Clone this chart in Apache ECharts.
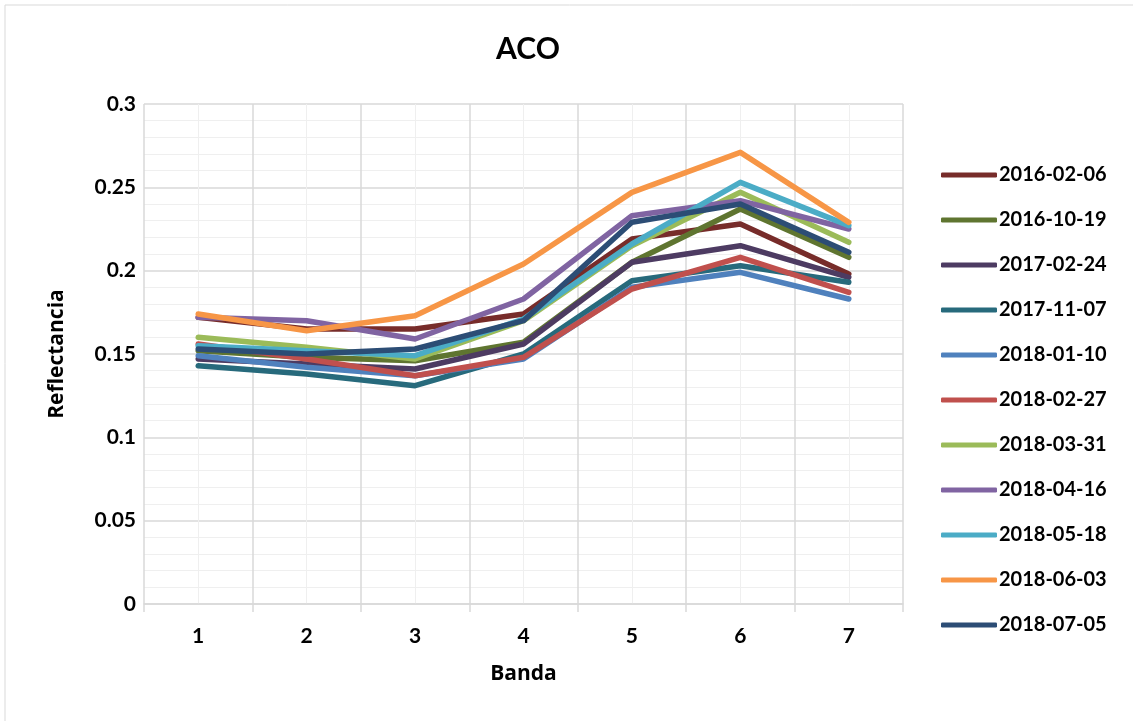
<!DOCTYPE html>
<html>
<head>
<meta charset="utf-8">
<script src="https://cdn.jsdelivr.net/npm/echarts@6/dist/echarts.min.js"></script>
<style>
html,body{margin:0;padding:0;background:#fff;}
#chart{width:1133px;height:721px;}
</style>
</head>
<body>
<div id="chart"></div>
<script>
const categories = ['1','2','3','4','5','6','7'];
const seriesNames = ['2016-02-06','2016-10-19','2017-02-24','2017-11-07','2018-01-10','2018-02-27','2018-03-31','2018-04-16','2018-05-18','2018-06-03','2018-07-05'];
const s20160206 = [0.172, 0.165, 0.165, 0.174, 0.219, 0.228, 0.198];
const s20161019 = [0.152, 0.148, 0.146, 0.157, 0.205, 0.237, 0.208];
const s20170224 = [0.147, 0.144, 0.141, 0.156, 0.205, 0.215, 0.196];
const s20171107 = [0.143, 0.138, 0.131, 0.150, 0.194, 0.203, 0.193];
const s20180110 = [0.149, 0.142, 0.137, 0.147, 0.190, 0.199, 0.183];
const s20180227 = [0.156, 0.147, 0.137, 0.148, 0.189, 0.208, 0.187];
const s20180331 = [0.160, 0.154, 0.147, 0.170, 0.215, 0.247, 0.217];
const s20180416 = [0.172, 0.170, 0.159, 0.183, 0.233, 0.242, 0.225];
const s20180518 = [0.155, 0.152, 0.149, 0.171, 0.216, 0.253, 0.227];
const s20180603 = [0.174, 0.164, 0.173, 0.204, 0.247, 0.271, 0.229];
const s20180705 = [0.153, 0.150, 0.153, 0.170, 0.229, 0.240, 0.211];
const seriesData = [s20160206, s20161019, s20170224, s20171107, s20180110, s20180227, s20180331, s20180416, s20180518, s20180603, s20180705];
const colors = ['#772C2A','#5F7530','#4D3B62','#276A7C','#4F81BD','#C0504D','#9BBB59','#8064A2','#4BACC6','#F79646','#2C4D75'];
const yTicks = [0, 0.05, 0.1, 0.15, 0.2, 0.25, 0.3];

const FONT = 'Lato, "Open Sans", sans-serif';
const NAMEFONT = '"Open Sans", Lato, sans-serif';
const chart = echarts.init(document.getElementById('chart'), null, {renderer:'canvas'});
const option = {
  backgroundColor: '#ffffff',
  color: colors,
  animation: false,
  graphic: [{
    type: 'rect', silent: true,
    shape: {x: 5, y: 5, width: 1140, height: 730},
    style: {fill: 'none', stroke: '#d9d9d9', lineWidth: 1}
  }],
  title: {
    text: 'ACO', left: 523, top: 29, textAlign: 'center',
    textStyle: {fontFamily: FONT, fontWeight: 'bold', fontSize: 30, color: '#000'}
  },
  grid: {left: 144, right: 230, top: 104, bottom: 117, containLabel: false},
  legend: {
    orient: 'vertical', left: 941, top: 165, padding: 0,
    icon: 'roundRect', itemWidth: 56, itemHeight: 5, itemGap: 25,
    data: seriesNames,
    textStyle: {fontFamily: FONT, fontWeight: 'bold', fontSize: 20, color: '#000', lineHeight: 20, padding: [0,0,0,-3]}
  },
  xAxis: [{
    type: 'category', data: categories, boundaryGap: true,
    name: 'Banda', nameLocation: 'middle', nameGap: 60,
    nameTextStyle: {fontFamily: NAMEFONT, fontWeight: 'bold', fontSize: 21, color: '#000'},
    axisLine: {lineStyle: {color: '#d9d9d9', width: 1.5}},
    axisTick: {show: true, length: 8, lineStyle: {color: '#d9d9d9', width: 1.5}},
    axisLabel: {fontFamily: FONT, fontWeight: 'bold', fontSize: 21, color: '#000', margin: 22},
    splitLine: {show: false}
  }, {
    type: 'value', min: 0, max: 7, interval: 1, position: 'bottom',
    axisLine: {show: false}, axisTick: {show: false}, axisLabel: {show: false},
    splitLine: {show: true, lineStyle: {color: '#d9d9d9', width: 1.5}},
    minorTick: {show: false, splitNumber: 2},
    minorSplitLine: {show: true, lineStyle: {color: '#efefef', width: 1}}
  }],
  yAxis: {
    type: 'value', min: 0, max: 0.3, interval: 0.05,
    name: 'Reflectancia', nameLocation: 'middle', nameGap: 76, nameRotate: 90,
    nameTextStyle: {fontFamily: NAMEFONT, fontWeight: 'bold', fontSize: 21, color: '#000'},
    axisLine: {show: false}, axisTick: {show: false},
    axisLabel: {fontFamily: FONT, fontWeight: 'bold', fontSize: 21, color: '#000', margin: 8,
      formatter: function(v){ const t = yTicks.find(function(x){return Math.abs(x - v) < 1e-9;}); return t === undefined ? '' : String(t); }},
    splitLine: {show: true, lineStyle: {color: '#d9d9d9', width: 1.5}},
    minorTick: {show: false, splitNumber: 5},
    minorSplitLine: {show: true, lineStyle: {color: '#efefef', width: 1}}
  },
  series: seriesNames.map(function(name, i){
    return {
      name: name, type: 'line', xAxisIndex: 0, data: seriesData[i],
      showSymbol: false, symbol: 'none',
      lineStyle: {width: 5.5, color: colors[i], cap: 'round', join: 'round'},
      itemStyle: {color: colors[i]}
    };
  })
};
chart.setOption(option);
</script>
</body>
</html>
